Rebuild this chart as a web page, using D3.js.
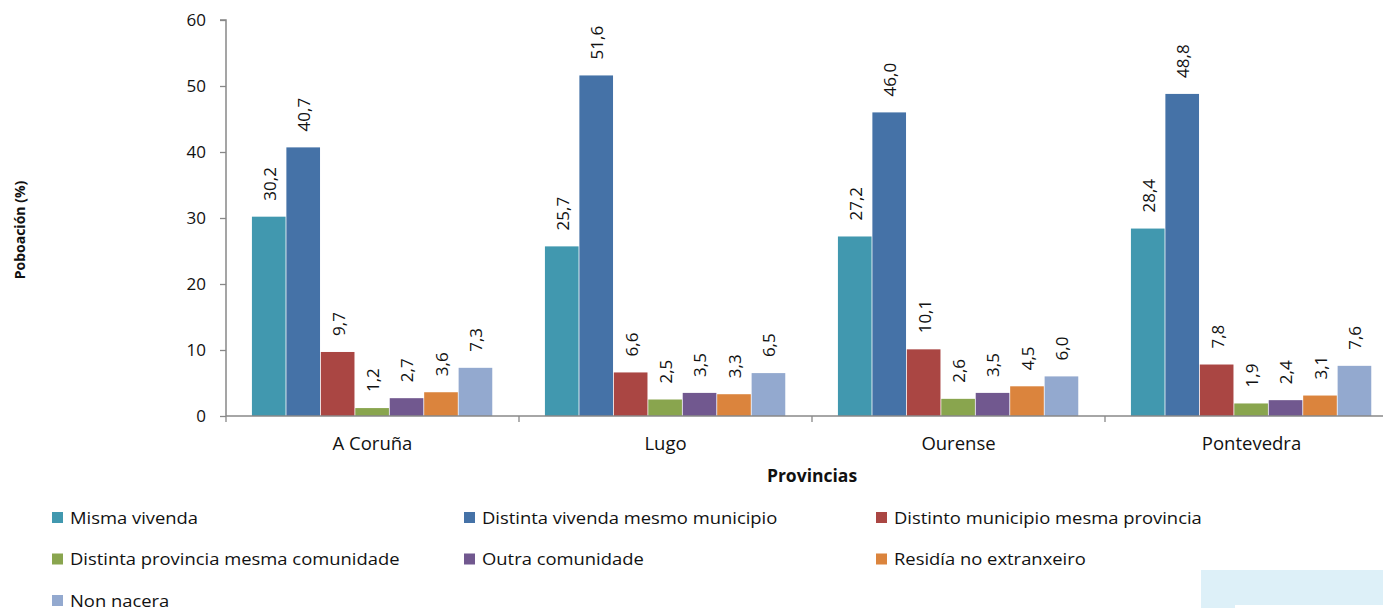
<!DOCTYPE html>
<html>
<head>
<meta charset="utf-8">
<script src="https://cdn.jsdelivr.net/npm/d3@7"></script>
<style>
  body { margin: 0; background: #fff; }
  svg { display: block; font-family: "Open Sans", sans-serif; }
</style>
</head>
<body>
<svg width="1383" height="608"></svg>
<script>
const provincias = ["A Coruña", "Lugo", "Ourense", "Pontevedra"]
const series = [
  "Misma vivenda",
  "Distinta vivenda mesmo municipio",
  "Distinto municipio mesma provincia",
  "Distinta provincia mesma comunidade",
  "Outra comunidade",
  "Residía no extranxeiro",
  "Non nacera"
]
// values per province, in series order
const aCoruna = [30.2, 40.7, 9.7, 1.2, 2.7, 3.6, 7.3]
const lugo = [25.7, 51.6, 6.6, 2.5, 3.5, 3.3, 6.5]
const ourense = [27.2, 46.0, 10.1, 2.6, 3.5, 4.5, 6.0]
const pontevedra = [28.4, 48.8, 7.8, 1.9, 2.4, 3.1, 7.6]
const yTicks = [0, 10, 20, 30, 40, 50, 60]
const colours = ["#4198AF", "#4572A7", "#AA4643", "#89A54E", "#71588F", "#DB843D", "#93A9CF"]

const values = [aCoruna, lugo, ourense, pontevedra]
const rows = provincias.map((p, i) => ({
  prov: p,
  vals: series.map((s, j) => ({ s, v: values[i][j] }))
}))

const svg = d3.select("svg")
const axisCol = "#888"

const x0 = d3.scaleBand()
  .domain(provincias)
  .range([226, 1398])
  .paddingInner(0.177)
  .paddingOuter(0.0885)
const x1 = d3.scaleBand()
  .domain(series)
  .range([0, x0.bandwidth()])
const y = d3.scaleLinear().domain([0, 60]).range([416, 20])

// bars
const groups = svg.append("g")
  .selectAll("g")
  .data(rows)
  .join("g")
  .attr("transform", d => `translate(${x0(d.prov)},0)`)

groups.selectAll("rect")
  .data(d => d.vals)
  .join("rect")
  .attr("x", d => x1(d.s))
  .attr("y", d => y(d.v))
  .attr("width", x1.bandwidth() - 0.8)
  .attr("height", d => y(0) - y(d.v))
  .attr("fill", (d, i) => colours[i])

// data labels
const fmt = v => v.toFixed(1).replace(".", ",")
groups.selectAll("text")
  .data(d => d.vals)
  .join("text")
  .attr("transform", d => `translate(${x1(d.s) + x1.bandwidth() / 2},${y(d.v) - 16}) rotate(-90)`)
  .attr("dominant-baseline", "central")
  .attr("font-size", 17)
  .attr("fill", "#111")
  .text(d => fmt(d.v))

// y axis
const yAxis = svg.append("g")
  .attr("transform", "translate(226,0)")
  .call(d3.axisLeft(y).tickValues(yTicks).tickSize(6).tickPadding(14))
yAxis.selectAll("text").attr("font-size", 17).attr("fill", "#111").attr("font-family", "Open Sans")
yAxis.selectAll("line").attr("stroke", axisCol).attr("stroke-width", 1.3)
yAxis.select(".domain").attr("stroke", axisCol).attr("stroke-width", 1.5)
  .attr("d", `M-6,${y(60)}H0V${y(0)}`)

// x axis: line with ticks at group boundaries
const xAxis = svg.append("g")
xAxis.append("line")
  .attr("x1", 226).attr("x2", 1398)
  .attr("y1", y(0)).attr("y2", y(0))
  .attr("stroke", axisCol).attr("stroke-width", 1.5)
const step = x0.step()
xAxis.selectAll(".bt")
  .data(d3.range(provincias.length + 1))
  .join("line")
  .attr("x1", i => 226 + i * step).attr("x2", i => 226 + i * step)
  .attr("y1", y(0)).attr("y2", y(0) + 6)
  .attr("stroke", axisCol).attr("stroke-width", 1.3)
xAxis.selectAll("text")
  .data(provincias)
  .join("text")
  .attr("x", d => x0(d) + x0.bandwidth() / 2)
  .attr("y", 450)
  .attr("text-anchor", "middle")
  .attr("font-size", 18.5)
  .attr("fill", "#111")
  .text(d => d)

// axis titles
svg.append("text")
  .attr("x", 812).attr("y", 482)
  .attr("text-anchor", "middle")
  .attr("font-size", 17.5).attr("font-weight", "bold")
  .attr("fill", "#111")
  .text("Provincias")
svg.append("text")
  .attr("transform", "translate(25,230) rotate(-90)")
  .attr("text-anchor", "middle")
  .attr("font-size", 14).attr("font-weight", "bold")
  .attr("fill", "#111")
  .text("Poboación (%)")

// legend
const leg = svg.append("g")
  .selectAll("g")
  .data(series)
  .join("g")
  .attr("transform", (d, i) => `translate(${52 + (i % 3) * 412},${517.5 + Math.floor(i / 3) * 41.5})`)
leg.append("rect")
  .attr("x", 0).attr("y", -5.5)
  .attr("width", 11).attr("height", 11)
  .attr("fill", (d, i) => colours[i])
leg.append("text")
  .attr("transform", "translate(18,6.2) scale(1.15,1)")
  .attr("font-size", 16)
  .attr("fill", "#111")
  .text(d => d)

// pale patch at bottom right of the picture
svg.append("rect")
  .attr("x", 1201).attr("y", 570)
  .attr("width", 182).attr("height", 38)
  .attr("fill", "#DDF0F8")
svg.append("rect")
  .attr("x", 1235).attr("y", 605)
  .attr("width", 148).attr("height", 3)
  .attr("fill", "#fff")
</script>
</body>
</html>
